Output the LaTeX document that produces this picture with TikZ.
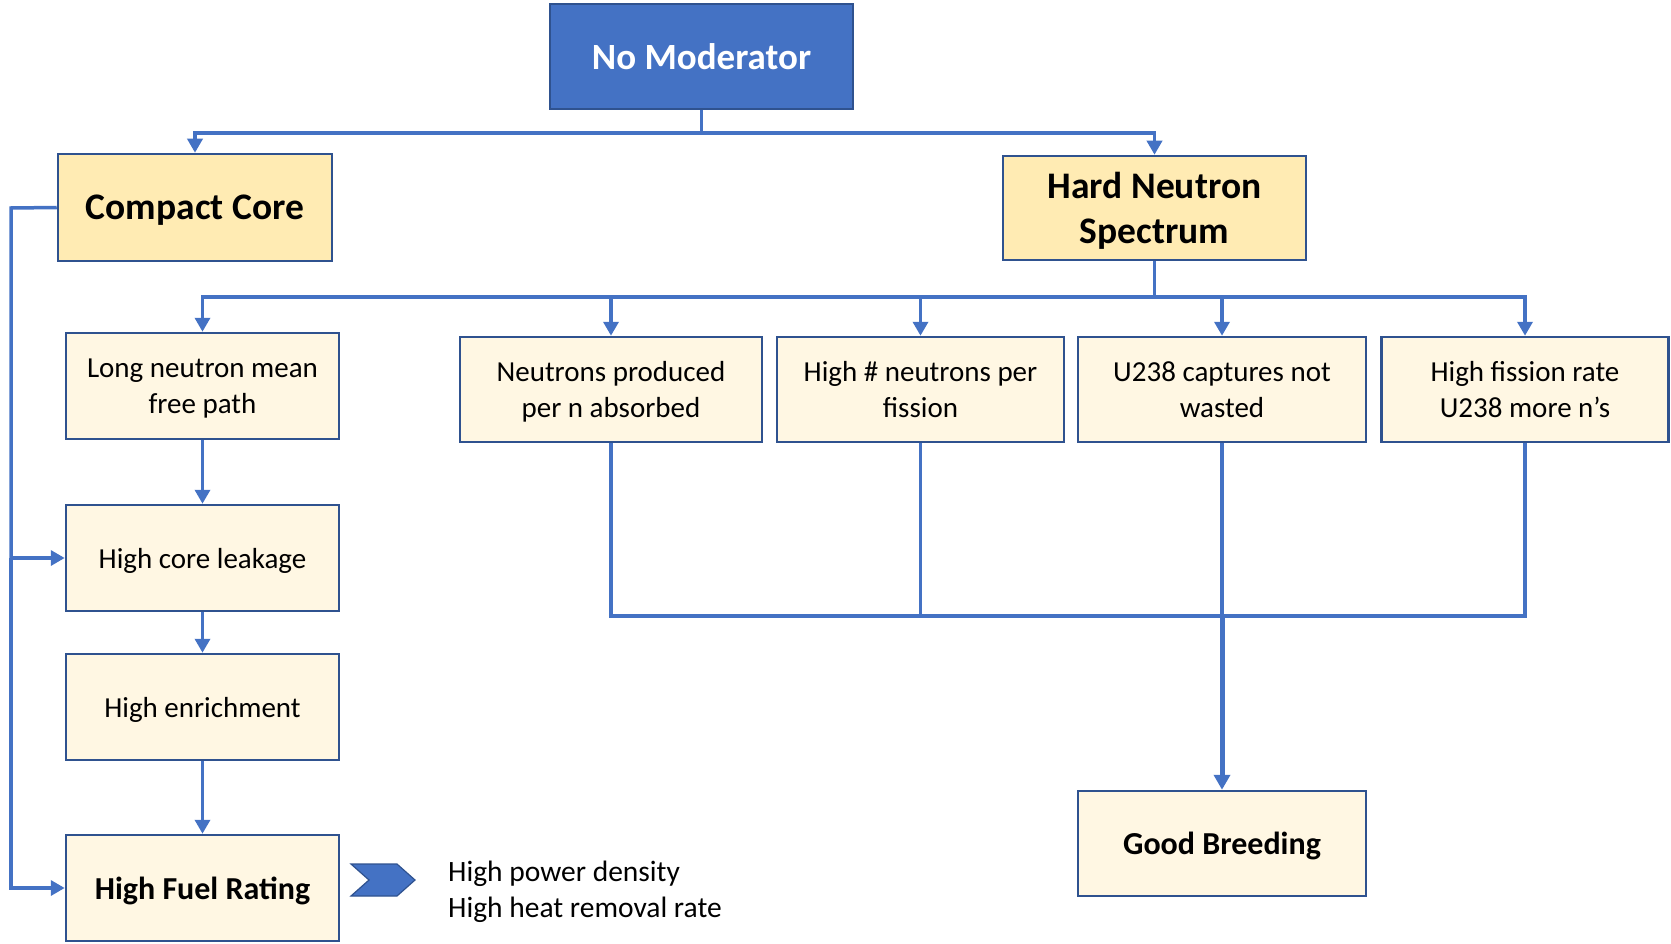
\documentclass[tikz,border=0pt]{standalone}
\usepackage{fontspec}
\setmainfont{Carlito}
\usetikzlibrary{arrows.meta}
\definecolor{lineblue}{HTML}{4472C4}
\definecolor{boxborder}{HTML}{2F528F}
\definecolor{topfill}{HTML}{4472C4}
\definecolor{mainfill}{HTML}{FFEBB3}
\definecolor{subfill}{HTML}{FFF7E3}
\tikzset{
  box/.style={draw=boxborder, line width=2.5pt, fill=subfill, align=center, inner sep=0pt,
    text depth=0pt, font=\fontsize{29}{35.5}\selectfont},
  mainbox/.style={box, fill=mainfill, font=\bfseries\fontsize{37.5}{45}\selectfont},
  conn/.style={draw=lineblue, line width=3.5pt},
  arr/.style={conn, -{Triangle[width=15pt,length=14pt]}},
}
\begin{document}
\begin{tikzpicture}[x=1pt,y=-1pt]
\useasboundingbox (0,0) rectangle (1671,944);
% nodes
\node[box, fill=topfill, text=white, font=\bfseries\fontsize{37}{44}\selectfont,
  minimum width=303pt, minimum height=105pt] (nomod) at (701.5,56.5) {No Moderator};
\node[mainbox, minimum width=274pt, minimum height=107pt] (compact) at (195,207.5) {Compact Core};
\node[mainbox, minimum width=303pt, minimum height=104pt] (hard) at (1154.5,208) {Hard Neutron\\Spectrum};
\node[box, minimum width=273pt, minimum height=106pt] (longn) at (202.5,386) {Long neutron mean\\free path};
\node[box, minimum width=302pt, minimum height=105pt] (nprod) at (611,389.5) {Neutrons produced\\per n absorbed};
\node[box, minimum width=287pt, minimum height=105pt] (highn) at (920.5,389.5) {High \# neutrons per\\fission};
\node[box, minimum width=288pt, minimum height=105pt] (u238) at (1222,389.5) {U238 captures not\\wasted};
\node[box, minimum width=287pt, minimum height=105pt] (hfis) at (1525,389.5) {High fission rate\\U238 more n’s};
\node[box, minimum width=273pt, minimum height=106pt] (leak) at (202.5,558) {High core leakage};
\node[box, minimum width=273pt, minimum height=106pt] (enrich) at (202.5,707) {High enrichment};
\node[box, font=\bfseries\fontsize{32}{38}\selectfont, minimum width=273pt, minimum height=106pt] (fuel) at (202.5,888) {High Fuel Rating};
\node[box, font=\bfseries\fontsize{32}{38}\selectfont, minimum width=288pt, minimum height=105pt] (breed) at (1222,843.5) {Good Breeding};
% coordinates
\coordinate (bus1) at (701.5,133);
\coordinate (bus2) at (1154.5,297);
\coordinate (bus3) at (1222,616);
\coordinate (fbtop) at (11,208);
\coordinate (fbleak) at (11,558);
\coordinate (fbfuel) at (11,888);
% top connectors
\draw[conn] (nomod.south) -- (bus1);
\draw[arr] (bus1) -| (compact.north);
\draw[arr] (bus1) -| (hard.north);
% second level
\draw[conn] (hard.south) -- (bus2);
\draw[arr] (bus2) -| (longn.north);
\draw[arr] (bus2) -| (nprod.north);
\draw[arr] (bus2) -| (highn.north);
\draw[arr] (bus2) -| (u238.north);
\draw[arr] (bus2) -| (hfis.north);
% left chain
\draw[arr] (longn.south) -- (leak.north);
\draw[arr] (leak.south) -- (enrich.north);
\draw[arr] (enrich.south) -- (fuel.north);
% feedback from compact core
\draw[conn] (compact.west) -- (fbtop) -- (fbleak);
\draw[arr] (fbleak) -- (leak.west);
\draw[arr] (fbleak) -- (fbfuel) -- (fuel.west);
% bottom bus
\draw[conn] (nprod.south) |- (bus3);
\draw[conn] (hfis.south) |- (bus3);
\draw[conn] (highn.south) -- (highn.south |- bus3);
\draw[conn] (u238.south) -- (bus3);
\draw[draw=lineblue, line width=5pt, -{Triangle[width=16pt,length=15pt]}] (bus3) -- (breed.north);
% chevron
\draw[draw=boxborder, line width=1.2pt, fill=topfill] (351,864) -- (397,864) -- (415,880) -- (397,896) -- (351,896) -- (369,880) -- cycle;
\node[anchor=west, align=left, inner sep=0pt, font=\fontsize{29.5}{36}\selectfont] (notes) at (448,892) {High power density\\High heat removal rate};
\end{tikzpicture}
\end{document}
